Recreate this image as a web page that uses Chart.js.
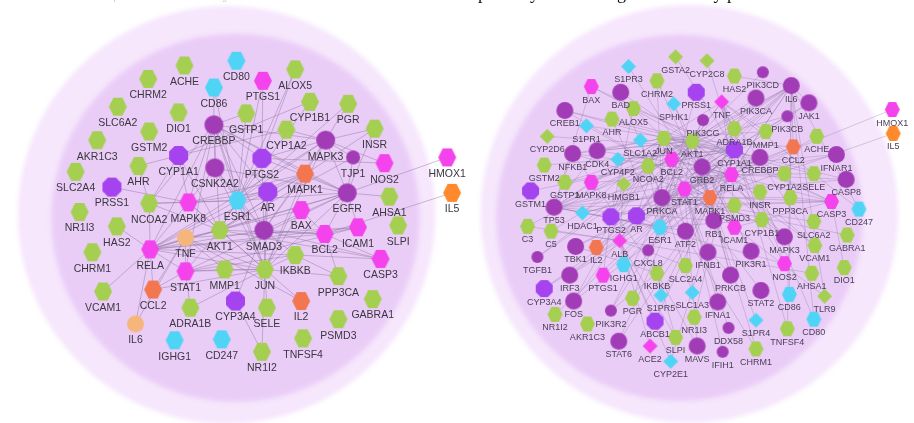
<!DOCTYPE html>
<html><head><meta charset="utf-8">
<script src="https://cdn.jsdelivr.net/npm/chart.js@4.4.1/dist/chart.umd.min.js"></script>
<style>html,body{margin:0;padding:0;background:#fff;overflow:hidden}canvas{display:block}</style>
</head><body>
<canvas id="c" width="914" height="423"></canvas>
<script>
// ---------- DATA ----------
// node: [name, x, y, kind]
const leftNodes = [
 ["ACHE",179,59,"g"],["CD80",232,54,"c"],["CD86",209,82,"c"],["PTGS1",259,75,"m"],["ALOX5",292,63,"g"],
 ["CHRM2",142,73,"g"],["SLC6A2",111,102,"g"],["DIO1",173,108,"g"],["GSTP1",242,109,"g"],["CYP1B1",307,97,"g"],
 ["PGR",346,99,"g"],["CREBBP",209,121,"p"],["CYP1A2",283,126,"g"],["INSR",373,125,"g"],["MAPK3",323,137,"p"],
 ["TJP1",351,155,"s"],["NOS2",383,161,"m"],["AKR1C3",90,137,"g"],["GSTM2",143,128,"g"],["CYP1A1",173,153,"v"],
 ["CSNK2A2",210,166,"p"],["PTGS2",258,156,"v"],["MAPK1",302,172,"o"],["EGFR",345,192,"p"],["AHSA1",388,196,"g"],
 ["SLC2A4",68,170,"g"],["AHR",132,164,"g"],["PRSS1",105,186,"v"],["NCOA2",143,203,"g"],["MAPK8",183,202,"m"],
 ["ESR1",233,200,"c"],["AR",264,191,"v"],["BAX",298,210,"m"],["HMOX1",447,155,"m"],["IL5",452,192,"y"],
 ["NR1I3",72,212,"g"],["HAS2",110,227,"g"],["CHRM1",85,254,"g"],["RELA",144,251,"m"],["TNF",180,239,"t"],
 ["AKT1",215,231,"g"],["SMAD3",260,231,"p"],["BCL2",322,235,"m"],["ICAM1",356,228,"m"],["SLPI",397,226,"g"],
 ["CASP3",379,261,"m"],["IKBKB",292,257,"g"],["STAT1",180,274,"m"],["MMP1",220,272,"g"],["JUN",261,272,"g"],
 ["PPP3CA",336,279,"g"],["GABRA1",371,303,"g"],["VCAM1",96,295,"g"],["CCL2",147,293,"o"],["ADRA1B",185,312,"g"],
 ["CYP3A4",231,305,"v"],["SELE",263,312,"g"],["IL2",298,305,"o"],["PSMD3",336,324,"g"],["IL6",129,329,"t"],
 ["IGHG1",169,346,"c"],["CD247",217,345,"c"],["TNFSF4",300,344,"g"],["NR1I2",258,358,"g"]
];
const rightNodes = [
 ["GSTA2",680,50,"gd"],["CYP2C8",712,54,"gd"],["S1PR3",632,60,"cd"],["CHRM2",661,75,"g"],["HAS2",740,70,"g"],
 ["PIK3CD",769,66,"s"],["BAX",594,81,"m"],["BAD",624,87,"p"],["PRSS1",701,87,"v"],["SPHK1",678,99,"cd"],
 ["TNF",727,97,"md"],["IL6",798,80,"p"],["PIK3CA",762,93,"p"],["JAK1",816,98,"p"],["PIK3CB",794,112,"s"],
 ["CREB1",567,106,"p"],["ALOX5",637,104,"g"],["AHR",615,115,"g"],["S1PR1",589,122,"cd"],["PIK3CG",708,116,"s"],
 ["ADRA1B",740,125,"g"],["MMP1",772,128,"g"],["ACHE",824,133,"g"],["CCL2",800,144,"o"],["HMOX1",901,105,"m"],
 ["IL5",902,130,"y"],["CYP2D6",549,133,"gd"],["NFKB1",575,151,"p"],["CDK4",600,148,"p"],["SLC1A2",644,137,"cd"],
 ["JUN",668,135,"g"],["AKT1",697,138,"g"],["CYP1A1",740,147,"v"],["CREBBP",766,155,"p"],["IFNAR1",844,152,"p"],
 ["GSTM2",546,163,"g"],["CYP4F2",621,157,"cd"],["NCOA2",652,164,"g"],["BCL2",676,157,"m"],["GRB2",707,165,"p"],
 ["RELA",737,173,"m"],["CYP1A2",791,172,"g"],["SELE",821,172,"g"],["CASP8",854,178,"p"],["GSTP1",567,181,"g"],
 ["MAPK8",594,181,"m"],["HMGB1",627,183,"gd"],["GSTM1",532,190,"v"],["STAT1",689,188,"m"],["MAPK1",715,197,"o"],
 ["PRKCA",666,197,"p"],["INSR",766,191,"g"],["PPP3CA",797,197,"g"],["CASP3",839,201,"m"],["CD247",867,209,"c"],
 ["TP53",556,207,"p"],["HDAC1",585,213,"cd"],["PTGS2",614,217,"v"],["AR",640,216,"v"],["PSMD3",740,205,"g"],
 ["RB1",719,221,"p"],["ESR1",664,228,"c"],["ATF2",690,232,"p"],["ICAM1",740,228,"m"],["CYP1B1",768,220,"g"],
 ["MAPK3",791,238,"p"],["SLC6A2",821,222,"g"],["GABRA1",855,236,"g"],["VCAM1",822,247,"g"],["C3",529,227,"g"],
 ["C5",553,232,"g"],["TBK1",578,248,"p"],["IL2",599,249,"o"],["ALB",623,242,"md"],["CXCL8",652,252,"s"],
 ["TGFB1",539,259,"s"],["IGHG1",627,267,"c"],["SLC2A4",690,268,"g"],["IFNB1",713,254,"p"],["PIK3R1",757,253,"p"],
 ["NOS2",791,266,"m"],["DIO1",852,270,"g"],["AHSA1",819,276,"g"],["IRF3",572,278,"p"],["PTGS1",606,278,"m"],
 ["IKBKB",661,276,"g"],["PRKCB",736,278,"p"],["STAT2",767,294,"p"],["CD86",796,298,"c"],["TLR9",832,300,"gd"],
 ["CYP3A4",546,292,"v"],["FOS",576,305,"p"],["PGR",636,302,"g"],["S1PR5",665,299,"cd"],["SLC1A3",697,296,"cd"],
 ["IFNA1",723,306,"p"],["PIK3R2",614,315,"s"],["NR1I2",557,319,"g"],["AKR1C3",590,329,"g"],["ABCB1",659,326,"v"],
 ["NR1I3",699,322,"g"],["DDX58",734,333,"s"],["S1PR4",762,325,"cd"],["CD80",821,324,"c"],["TNFSF4",794,334,"g"],
 ["STAT6",622,347,"p"],["ACE2",654,352,"md"],["SLPI",680,343,"g"],["MAVS",702,352,"p"],["IFIH1",728,358,"s"],
 ["CHRM1",762,355,"g"],["CYP2E1",675,368,"cd"]
];
// links: "hub: neighbours"
const leftLinks = [
 "RELA: NCOA2 TNF AKT1 JUN STAT1 CREBBP VCAM1 IL6 CCL2 HAS2 ICAM1 BCL2 MAPK1 MAPK3 ESR1 SMAD3 MAPK8 IKBKB EGFR",
 "JUN: AKT1 MAPK8 STAT1 SMAD3 ESR1 NR1I2 IL2 PPP3CA MMP1 SELE CREBBP MAPK1 MAPK3 EGFR BAX IKBKB CSNK2A2 TNF CCL2 AR ADRA1B",
 "AKT1: MAPK8 ESR1 CREBBP PTGS2 EGFR BAX BCL2 MAPK1 CASP3 INSR TJP1 NCOA2 CYP1A1 STAT1 TNF",
 "MAPK8: CREBBP CYP1A1 CSNK2A2 ESR1 MAPK1 AR NCOA2 PRSS1",
 "ESR1: CREBBP AR EGFR MAPK1 MAPK3 PGR CYP1B1 SMAD3 CSNK2A2 NCOA2 CD86 PTGS1 ALOX5 GSTP1",
 "STAT1: CREBBP EGFR TNF ICAM1 IKBKB CCL2 ADRA1B MMP1",
 "SMAD3: CREBBP EGFR MAPK1 MAPK3 AR CASP3 BCL2 IKBKB CSNK2A2 PTGS2",
 "EGFR: MAPK1 MAPK3 AHSA1 HMOX1 TJP1 ICAM1 PTGS2 CSNK2A2 CREBBP BCL2 INSR",
 "MAPK3: MAPK1 PGR TJP1 NOS2 CYP1A2 INSR PTGS2 CREBBP",
 "CYP1A1: CYP1A2 CYP1B1 AHR NCOA2",
 "CREBBP: GSTP1 CD86 PTGS2 CSNK2A2 AR MAPK1 NCOA2",
 "BCL2: BAX CASP3 ICAM1 IL5 PPP3CA",
 "IKBKB: CASP3 PPP3CA",
 "TNF: IL6 CCL2 ICAM1 MMP1 IL2",
 "AHR: NCOA2",
 "CYP3A4: NR1I2 SMAD3",
 "PTGS2: PTGS1 ALOX5 NOS2"
];
const rightLinks = [
 "AKT1: BAD CREB1 PIK3CA PIK3CB PIK3CD PIK3CG PIK3R1 PIK3R2 GRB2 MAPK1 MAPK3 MAPK8 TP53 BCL2 BAX CASP3 CASP8 RELA NFKB1 STAT1 JUN ESR1 AR PTGS2 INSR GSTP1 HMGB1 PRKCA PRKCB CDK4 IL6 TNF FOS TGFB1 ICAM1 SPHK1 S1PR1",
 "JUN: FOS ATF2 MAPK8 MAPK1 MAPK3 CREBBP RELA STAT1 TP53 ESR1 AR NCOA2 HDAC1 RB1 CYP1A1 MMP1 ICAM1 CCL2 TNF IL2 SELE VCAM1 PTGS2 BCL2 NFKB1 CDK4 CREB1 ALOX5",
 "STAT1: STAT2 JAK1 IRF3 IFNAR1 IFNB1 IFNA1 TBK1 MAVS DDX58 IFIH1 STAT6 CREBBP RELA NFKB1 MAPK1 PRKCA IL6 CXCL8 IL2 ICAM1 TLR9 HDAC1 CCL2",
 "RELA: NFKB1 IKBKB TNF IL6 CXCL8 ICAM1 VCAM1 SELE CCL2 PTGS2 NOS2 HMOX1 CREBBP HDAC1 TBK1 MAPK8 BCL2 CASP8 TP53 GRB2 MAPK3 IRF3",
 "MAPK1: MAPK3 GRB2 PRKCA PRKCB CREB1 ATF2 FOS ESR1 AR RB1 PTGS2 SPHK1 S1PR1 S1PR3 S1PR4 S1PR5 ADRA1B CHRM1 CHRM2 ACHE CASP3 IL5",
 "GRB2: PIK3R1 PIK3R2 PIK3CA PIK3CB INSR PRKCA JAK1 CDK4 IFNAR1 SLC2A4",
 "PRKCA: PRKCB ADRA1B CHRM1 CHRM2 SLC6A2 SLC1A2 SLC1A3 PIK3CG BAD GABRA1 PPP3CA",
 "CYP1A1: CYP1A2 CYP1B1 AHR CYP3A4 CYP2E1 CYP2D6 CYP2C8 CYP4F2 GSTM1 GSTM2 GSTA2 GSTP1 NR1I2 NR1I3 ABCB1 ALB PTGS1 ALOX5",
 "ESR1: AR NCOA2 CREBBP HDAC1 PGR CYP1B1 TP53 BCL2 PRSS1 AHR",
 "TP53: CDK4 RB1 HDAC1 CREBBP BAX BCL2 CASP3 CASP8 MAPK8 ATF2 NFKB1",
 "ALB: ACE2 CYP2E1 ABCB1 SLPI C3 C5 TNF IL6 SLC2A4 AHSA1 HMGB1 IGHG1 CYP3A4",
 "IL6: JAK1 STAT6 IL2 CD80 CD86 CD247 TNFSF4 TLR9 IGHG1 C3 C5 CCL2 TGFB1 HAS2",
 "CASP3: CASP8 BAX BCL2 PPP3CA PSMD3 ICAM1 DIO1",
 "PTGS2: PTGS1 ALOX5 NOS2 HMGB1",
 "TNF: TNFSF4 CD80 CD247 VCAM1 MMP1 NOS2",
 "IKBKB: NFKB1 TBK1 MAVS PIK3R2 SLPI"
];
const captionLeft = "Network of the active compounds and the disease targets";
const captionRight = "pathway-related targets of the key proteins";

// ---------- STYLE ----------
const kindColor = {g:"#a4cf50",c:"#4fd4f6",m:"#f442ec",o:"#f27650",y:"#ff8a2d",t:"#f5b67c",
  p:"#a23bb6",s:"#a23bb6",v:"#a544ef",gd:"#a4cf50",cd:"#4fd4f6",md:"#f442ec"};
const kindShape = {g:"hex",c:"hex",m:"hex",o:"hex",y:"hex",t:"circle",p:"circle",s:"circle",v:"oct",gd:"dia",cd:"dia",md:"dia"};
const sizeL = {hex:18,circle:19,oct:19,dia:18,small:14};
const sizeR = {hex:15,circle:17,oct:17,dia:15,small:12};

function makeIcon(kind, sz) {
  const shape = kindShape[kind];
  let d = (kind === "s") ? sz.small : sz[shape];
  if (kind === "t") d = d - 2;
  const c = document.createElement("canvas");
  c.width = d + 2; c.height = d + 2;
  const x = c.getContext("2d");
  const cx = c.width / 2, cy = c.height / 2, r = d / 2;
  x.fillStyle = kindColor[kind];
  x.beginPath();
  if (shape === "circle") x.arc(cx, cy, r, 0, Math.PI * 2);
  else if (shape === "hex") {
    x.moveTo(cx - r, cy); x.lineTo(cx - r / 2, cy - r); x.lineTo(cx + r / 2, cy - r);
    x.lineTo(cx + r, cy); x.lineTo(cx + r / 2, cy + r); x.lineTo(cx - r / 2, cy + r);
  } else if (shape === "oct") {
    const k = r * 0.42;
    x.moveTo(cx - k, cy - r); x.lineTo(cx + k, cy - r); x.lineTo(cx + r, cy - k); x.lineTo(cx + r, cy + k);
    x.lineTo(cx + k, cy + r); x.lineTo(cx - k, cy + r); x.lineTo(cx - r, cy + k); x.lineTo(cx - r, cy - k);
  } else {
    x.moveTo(cx, cy - r); x.lineTo(cx + r, cy); x.lineTo(cx, cy + r); x.lineTo(cx - r, cy);
  }
  x.closePath(); x.fill();
  return c;
}
const iconsL = {}, iconsR = {};
Object.keys(kindColor).forEach(k => { iconsL[k] = makeIcon(k, sizeL); iconsR[k] = makeIcon(k, sizeR); });

function toPoints(nodes) { return nodes.map(n => ({x: n[1], y: n[2], name: n[0], kind: n[3]})); }
function toEdges(nodes, links) {
  const pos = {}; nodes.forEach(n => pos[n[0]] = n);
  const out = [];
  links.forEach(s => {
    const [hub, rest] = s.split(":");
    rest.trim().split(/\s+/).forEach(t => {
      const a = pos[hub.trim()], b = pos[t];
      if (a && b) { out.push({x: a[1], y: a[2]}, {x: b[1], y: b[2]}, {x: null, y: null}); }
    });
  });
  return out;
}

const graphs = [
  {disks: [{cx:222, cy:215, r:213, color:"#f6e7fc"}, {cx:231, cy:218, r:188, color:"#eacdf7"}],
   font: 10.5, dy: 16.5, labelColor: "#3b3640"},
  {disks: [{cx:694, cy:214, r:213, color:"#f6e7fc"}, {cx:684, cy:218, r:187, color:"#eacdf7"}],
   font: 9, dy: 13.5, labelColor: "#4a3d55"}
];

const bgPlugin = {
  id: "bg",
  beforeDatasetsDraw(chart) {
    const {ctx, scales: {x, y}} = chart;
    ctx.save();
    ctx.filter = "blur(2px)";
    graphs.forEach(g => g.disks.forEach(d => {
      const px = x.getPixelForValue(d.cx), py = y.getPixelForValue(d.cy);
      const pr = x.getPixelForValue(d.cx + d.r) - px;
      ctx.fillStyle = d.color;
      ctx.beginPath(); ctx.arc(px, py, pr, 0, Math.PI * 2); ctx.fill();
    }));
    ctx.restore();
  },
  afterDraw(chart) {
    const ctx = chart.ctx;
    ctx.save();
    ctx.fillStyle = "#c8c8c8"; ctx.font = '9px "Liberation Sans", Arial, sans-serif';
    ctx.textBaseline = "alphabetic"; ctx.textAlign = "left";
    ctx.fillText(captionLeft, 10, 0);
    ctx.fillStyle = "#111"; ctx.font = '18px "Liberation Serif", "Times New Roman", serif';
    ctx.fillText(captionRight, 478, -1.5);
    ctx.restore();
  }
};
const labelPlugin = {
  id: "labels",
  afterDatasetsDraw(chart) {
    const ctx = chart.ctx;
    ctx.save();
    ctx.textAlign = "center"; ctx.textBaseline = "middle";
    [0, 1].forEach(gi => {
      const g = graphs[gi];
      const meta = chart.getDatasetMeta(gi);
      const ds = chart.data.datasets[gi];
      ctx.font = g.font + 'px "Liberation Sans", Arial, sans-serif';
      ctx.fillStyle = g.labelColor;
      meta.data.forEach((el, i) => {
        ctx.fillText(ds.data[i].name, el.x, el.y + g.dy);
      });
    });
    ctx.restore();
  }
};

new Chart(document.getElementById("c"), {
  type: "scatter",
  data: {
    datasets: [
      {data: toPoints(leftNodes), order: 1, pointRadius: 8,
       pointStyle: c => (c.raw ? iconsL[c.raw.kind] : "circle")},
      {data: toPoints(rightNodes), order: 1, pointRadius: 8,
       pointStyle: c => (c.raw ? iconsR[c.raw.kind] : "circle")},
      {data: toEdges(leftNodes, leftLinks), order: 2, showLine: true, spanGaps: false, pointRadius: 0,
       borderColor: "rgba(135,112,155,0.55)", borderWidth: 0.8},
      {data: toEdges(rightNodes, rightLinks), order: 2, showLine: true, spanGaps: false, pointRadius: 0,
       borderColor: "rgba(135,112,155,0.45)", borderWidth: 0.7}
    ]
  },
  options: {
    responsive: false, animation: false, devicePixelRatio: 1,
    layout: {padding: 0},
    plugins: {legend: {display: false}, tooltip: {enabled: false}},
    scales: {
      x: {type: "linear", min: 0, max: 914, display: false},
      y: {type: "linear", min: 0, max: 423, reverse: true, display: false}
    }
  },
  plugins: [bgPlugin, labelPlugin]
});
</script>
</body></html>
